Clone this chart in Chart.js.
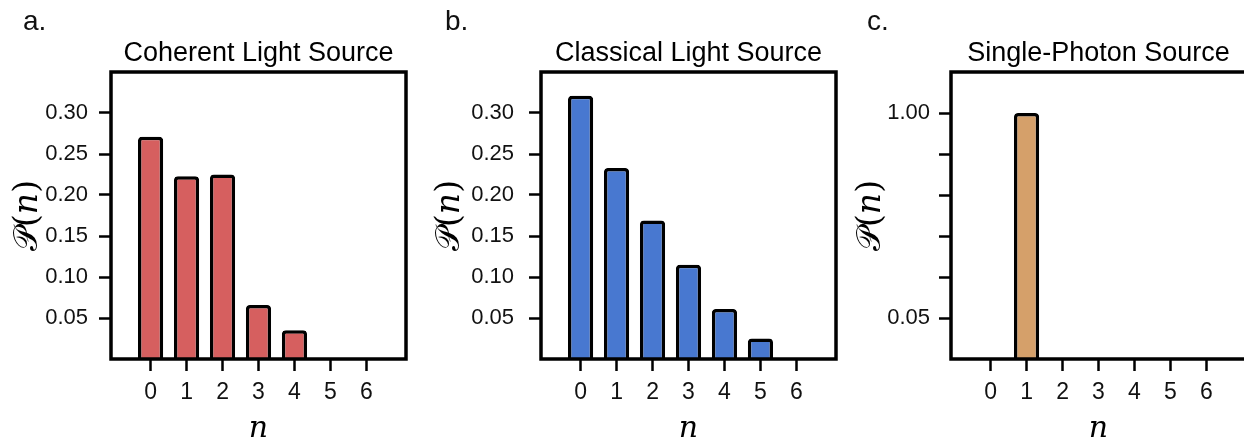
<!DOCTYPE html>
<html>
<head>
<meta charset="utf-8">
<script src="https://cdn.jsdelivr.net/npm/chart.js@4.4.1/dist/chart.umd.min.js"></script>
<style>
  html, body { margin: 0; padding: 0; background: #fff; overflow: hidden; width: 1244px; height: 444px; }
  .panel { position: absolute; top: 0; width: 420px; height: 444px; }
</style>
</head>
<body>
<div class="panel" style="left:0px"><canvas id="coherent" width="420" height="444"></canvas></div>
<div class="panel" style="left:430px"><canvas id="classical" width="420" height="444"></canvas></div>
<div class="panel" style="left:840px"><canvas id="single" width="420" height="444"></canvas></div>
<script>
// photon number n and the probabilities P(n)
const photonNumbers = [0, 1, 2, 3, 4, 5, 6];
const coherentProb = [0.271, 0.223, 0.225, 0.066, 0.035, 0, 0];
const classicalProb = [0.321, 0.233, 0.169, 0.115, 0.061, 0.025, 0];
const singlePhotonProb = [0, 1.0, 0, 0, 0, 0, 0];

// y ticks
const probTicks = [0.05, 0.10, 0.15, 0.20, 0.25, 0.30];
const singlePhotonTicks = [1 / 6, 2 / 6, 3 / 6, 4 / 6, 5 / 6, 1];
const singlePhotonTickLabels = ["0.05", "", "", "", "", "1.00"];

const SANS = '"Liberation Sans", Arial, Helvetica, sans-serif';

// box around the axes + panel letter
const panelDeco = {
  id: "panelDeco",
  afterDatasetsDraw(chart) {
    const { ctx, chartArea: a } = chart;
    ctx.save();
    ctx.strokeStyle = "#000";
    ctx.lineWidth = 3.5;
    ctx.strokeRect(a.left, a.top, a.right - a.left, a.bottom - a.top);
    ctx.restore();
  },
  afterDraw(chart, args, opts) {
    const ctx = chart.ctx;
    ctx.save();
    ctx.font = "28px " + SANS;
    ctx.fillStyle = "#111";
    ctx.textBaseline = "alphabetic";
    ctx.fillText(opts.letter, opts.x, opts.y);
    ctx.restore();
  },
};

function makePanel(id, values, color, title, letter, yTicks, yMax, yFormat, look) {
  return new Chart(document.getElementById(id), {
    type: "bar",
    data: {
      datasets: [{
        data: photonNumbers.map((n, i) => ({ x: n, y: values[i] })),
        backgroundColor: color,
        borderColor: "#000",
        borderWidth: 3.5,
        borderRadius: 4,
        barPercentage: 0.7,
        categoryPercentage: 1,
      }],
    },
    options: {
      responsive: false,
      animation: false,
      layout: { padding: { left: 0, right: 14, top: 0, bottom: 0 } },
      plugins: {
        legend: { display: false },
        tooltip: { enabled: false },
        title: {
          display: true,
          text: title,
          fullSize: false,
          color: "#000",
          font: { family: SANS, size: 27, weight: "normal" },
          padding: { top: 37, bottom: 2.6 },
        },
        panelDeco: { letter: letter, x: look.letterX, y: 30 },
      },
      scales: {
        x: {
          type: "linear",
          offset: false,
          min: -1.1,
          max: 7.1,
          afterFit: (s) => { s.height = 85; },
          afterBuildTicks: (s) => { s.ticks = photonNumbers.map((v) => ({ value: v })); },
          grid: { offset: false, drawOnChartArea: false, drawTicks: true, tickLength: 12, tickWidth: 2.5, tickColor: "#000" },
          border: { display: false },
          ticks: {
            autoSkip: false, maxRotation: 0, padding: 8, color: "#111",
            font: { family: SANS, size: 23 },
            callback: (v) => String(v),
          },
          title: {
            display: true, text: "n", color: "#000",
            font: { family: '"DejaVu Serif", serif', style: "italic", size: 30 },
            padding: { top: 0, bottom: -3 },
          },
        },
        y: {
          min: 0,
          max: yMax,
          afterFit: (s) => { s.width = 111; },
          afterBuildTicks: (s) => { s.ticks = yTicks.map((v) => ({ value: v })); },
          grid: { drawOnChartArea: false, drawTicks: true, tickLength: 12, tickWidth: 2.5, tickColor: "#000" },
          border: { display: false },
          ticks: {
            autoSkip: false, padding: look.tickPad, color: "#111",
            font: { family: SANS, size: 22 },
            callback: yFormat,
          },
          title: {
            display: true, text: "𝒫(𝑛)", color: "#000",
            font: { family: '"DejaVu Serif", "DejaVu Sans", serif', size: 33 },
            padding: { top: look.yTitlePad, bottom: 0 },
          },
        },
      },
    },
    plugins: [panelDeco],
  });
}

const fmt2 = (v) => v.toFixed(2);

makePanel("coherent", coherentProb, "#d65f5f", "Coherent Light Source", "a.",
  probTicks, 0.35, fmt2, { letterX: 23, tickPad: 11, yTitlePad: 9 });
makePanel("classical", classicalProb, "#4878d0", "Classical Light Source", "b.",
  probTicks, 0.35, fmt2, { letterX: 15, tickPad: 15, yTitlePad: 1 });
makePanel("single", singlePhotonProb, "#d5a06a", "Single-Photon Source", "c.",
  singlePhotonTicks, 7 / 6, (v, i) => singlePhotonTickLabels[i], { letterX: 27, tickPad: 9, yTitlePad: 12 });
</script>
</body>
</html>
